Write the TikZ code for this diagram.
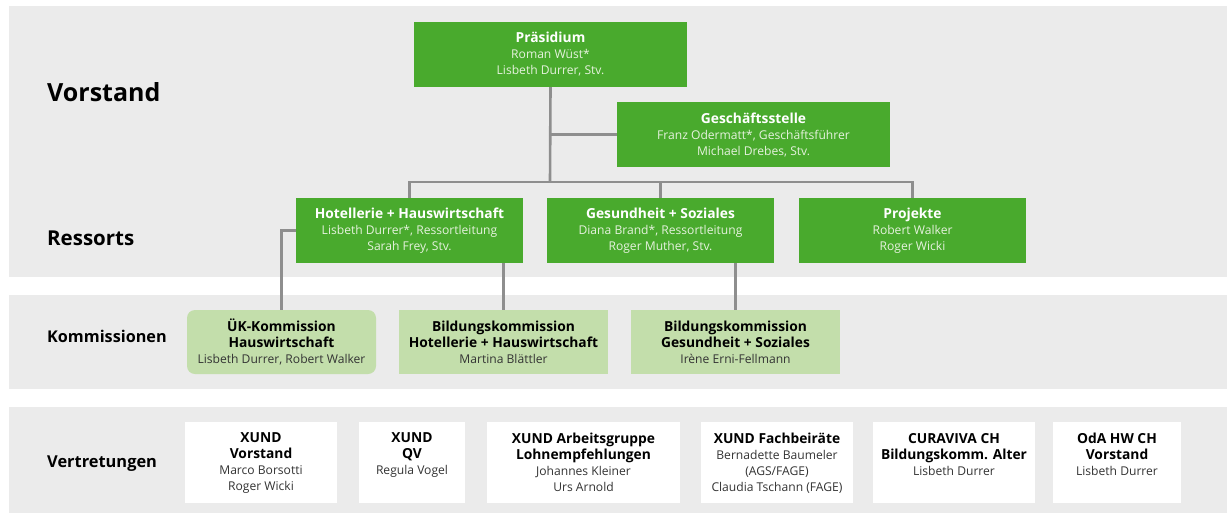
\documentclass[tikz,border=0pt]{standalone}
\usepackage{fontspec}
\setmainfont{Open Sans}
\definecolor{bandgrey}{HTML}{EBEBEB}
\definecolor{dgreen}{HTML}{49AA2D}
\definecolor{lgreen}{HTML}{C3DEAB}
\definecolor{linegrey}{HTML}{8E8E8E}
\definecolor{nametext}{HTML}{E6F2DE}
\definecolor{darktext}{HTML}{333333}
\newcommand\gTitle[1]{{\color{white}\fontsize{13.8}{16}\selectfont\bfseries #1}}
\newcommand\bTitle[1]{{\color{black}\fontsize{13.8}{16}\selectfont\bfseries #1}}
\begin{document}
\begin{tikzpicture}[x=1pt,y=-1pt,
  band/.style={fill=bandgrey},
  gbox/.style={fill=dgreen, inner sep=0pt, align=center, text=nametext,
    minimum width=227pt, minimum height=65pt,
    font=\fontsize{12.1}{16}\selectfont},
  lbox/.style={fill=lgreen, inner sep=0pt, align=center, text=darktext,
    minimum width=209pt, minimum height=64pt,
    font=\fontsize{12.1}{16}\selectfont},
  wbox/.style={fill=white, inner sep=0pt, minimum height=81pt},
  wtext/.style={inner sep=0pt, align=center, text=darktext, anchor=north,
    font=\fontsize{12.1}{16}\selectfont},
  conn/.style={draw=linegrey, line width=2.6pt},
  sec/.style={anchor=west, inner sep=0pt}
]
\fill[white] (0,0) rectangle (1232,515);
\useasboundingbox (0,0) rectangle (1232,515);
% bands
\fill[band] (9,6) rectangle (1227,277);
\fill[band] (9,295) rectangle (1227,389);
\fill[band] (9,407) rectangle (1227,513);
% section labels
\node[sec, font=\fontsize{25}{30}\selectfont\bfseries] (sVor) at (47,92) {Vorstand};
\node[sec, font=\fontsize{20.5}{24}\selectfont\bfseries] (sRes) at (47,238) {Ressorts};
\node[sec, font=\fontsize{16.2}{18}\selectfont\bfseries] (sKom) at (47,336) {Kommissionen};
\node[sec, font=\fontsize{16.4}{18}\selectfont\bfseries] (sVer) at (47,464) {Vertretungen};

% green boxes
\node[gbox, minimum width=273pt] (pres) at (550.5,54.5)
  {\gTitle{Präsidium}\\Roman Wüst*\\Lisbeth Durrer, Stv.};
\node[gbox, minimum width=273pt] (gst) at (753.5,134.5)
  {\gTitle{Geschäftsstelle}\\Franz Odermatt*, Geschäftsführer\\Michael Drebes, Stv.};
\node[gbox] (hh) at (409.5,230.5)
  {\gTitle{Hotellerie + Hauswirtschaft}\\Lisbeth Durrer*, Ressortleitung\\Sarah Frey, Stv.};
\node[gbox] (gs) at (660.5,230.5)
  {\gTitle{Gesundheit + Soziales}\\Diana Brand*, Ressortleitung\\Roger Muther, Stv.};
\node[gbox] (pr) at (912.5,230.5)
  {\gTitle{Projekte}\\Robert Walker\\Roger Wicki};

% light boxes
\node[lbox, minimum width=189pt, rounded corners=8pt] (uk) at (281.5,342)
  {\bTitle{ÜK-Kommission}\\\bTitle{Hauswirtschaft}\\Lisbeth Durrer, Robert Walker};
\node[lbox] (bh) at (503.5,342)
  {\bTitle{Bildungskommission}\\\bTitle{Hotellerie + Hauswirtschaft}\\Martina Blättler};
\node[lbox] (bg) at (735.5,342)
  {\bTitle{Bildungskommission}\\\bTitle{Gesundheit + Soziales}\\Irène Erni-Fellmann};

% connectors
\coordinate (jn) at (550,182);
\draw[conn] (pres.south) -- (jn);
\draw[conn] (gst.west) -- (gst.west -| pres.south);
\draw[conn] (hh.north) -- (hh.north |- jn) -- (pr.north |- jn) -- (pr.north);
\draw[conn] (gs.north) -- (gs.north |- jn);
\draw[conn] (hh.west) -| (uk.north);
\draw[conn] (hh.south -| bh.north) -- (bh.north);
\draw[conn] (gs.south -| bg.north) -- (bg.north);

% white boxes
\node[wbox, minimum width=152pt] (v1) at (261,462.5) {};
\node[wbox, minimum width=106pt] (v2) at (412,462.5) {};
\node[wbox, minimum width=193pt] (v3) at (583.5,462.5) {};
\node[wbox, minimum width=152pt] (v4) at (777,462.5) {};
\node[wbox, minimum width=162pt] (v5) at (954,462.5) {};
\node[wbox, minimum width=128pt] (v6) at (1117,462.5) {};
\node[wtext] (v1t) at ([yshift=-11pt]v1.north) {\bTitle{XUND}\\\bTitle{Vorstand}\\Marco Borsotti\\Roger Wicki};
\node[wtext] (v2t) at ([yshift=-11pt]v2.north) {\bTitle{XUND}\\\bTitle{QV}\\Regula Vogel};
\node[wtext] (v3t) at ([yshift=-11pt]v3.north) {\bTitle{XUND Arbeitsgruppe}\\\bTitle{Lohnempfehlungen}\\Johannes Kleiner\\Urs Arnold};
\node[wtext] (v4t) at ([yshift=-11pt]v4.north) {\bTitle{XUND Fachbeiräte}\\Bernadette Baumeler\\(AGS/FAGE)\\Claudia Tschann (FAGE)};
\node[wtext] (v5t) at ([yshift=-11pt]v5.north) {\bTitle{CURAVIVA CH}\\\bTitle{Bildungskomm. Alter}\\Lisbeth Durrer};
\node[wtext] (v6t) at ([yshift=-11pt]v6.north) {\bTitle{OdA HW CH}\\\bTitle{Vorstand}\\Lisbeth Durrer};
\end{tikzpicture}
\end{document}
